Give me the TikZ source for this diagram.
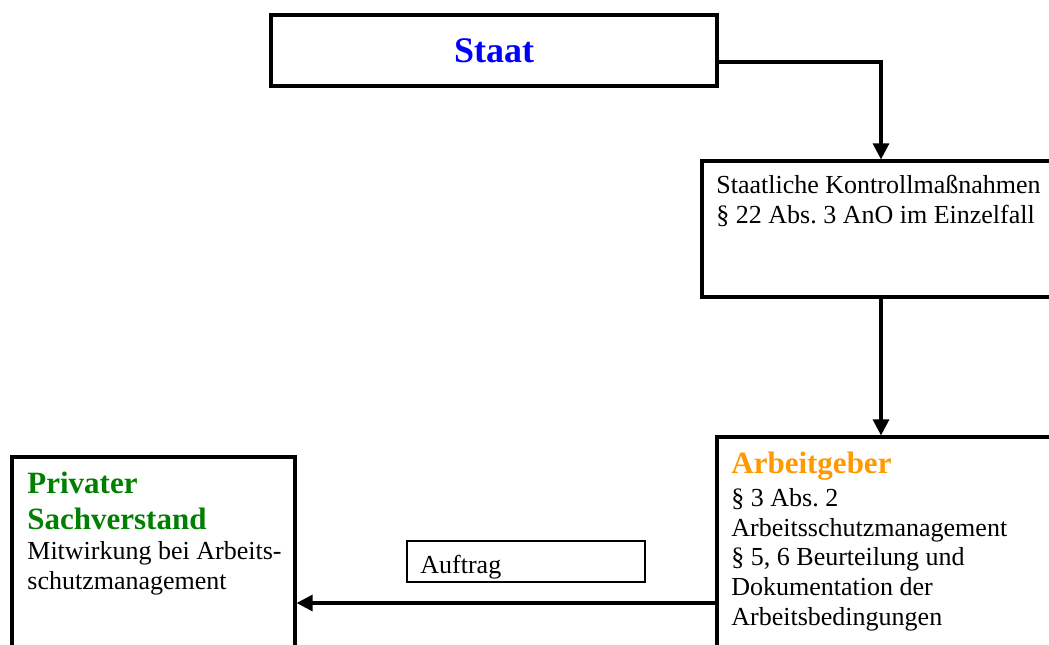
\documentclass[tikz,border=0pt]{standalone}
\usepackage{fontspec}
\setmainfont{Liberation Serif}
\usetikzlibrary{arrows.meta}
\definecolor{staatblue}{RGB}{0,0,255}
\definecolor{geberorange}{RGB}{255,153,0}
\definecolor{privatgreen}{RGB}{0,128,0}
\frenchspacing

\begin{document}
\begin{tikzpicture}[x=0.5pt, y=-0.5pt,
        box/.style={draw, line width=1.6pt, inner sep=0pt},
        txt/.style={anchor=base west, align=left, inner sep=0pt, font=\fontsize{13}{14.8}\selectfont},
        head/.style={anchor=base west, align=left, inner sep=0pt, font=\fontsize{15.5}{18}\selectfont\bfseries},
        conn/.style={line width=1.6pt, -{Triangle[length=8pt, width=8pt]}}]
    \useasboundingbox (0,0) rectangle (1049,644);
    \clip (0,0) rectangle (1049,644);
    % Staat: box at the top
    \node[box, line width=1.8pt, minimum width=223pt, minimum height=35.5pt] (staat) at (494,50.5) {};
    \node[font=\fontsize{18}{21}\selectfont\bfseries, text=staatblue, inner sep=0pt] (staat text) at (staat.center) {Staat};
    % Staatliche Kontrolle: right, runs off the edge
    % (base of a multi-line node = its last line)
    \node[box, minimum width=179pt, minimum height=68pt] (kontrolle) at (881,229) {};
    \node[txt] (kontrolle text) at (716,223) {Staatliche Kontrollma\ss nahmen\\\S\ 22 Abs. 3 AnO im Einzelfall};
    % Arbeitgeber: bottom right
    \node[box, minimum width=191.5pt, minimum height=131.5pt] (geber) at (908.5,568.5) {};
    \node[head, text=geberorange] (geber head) at (731,473) {Arbeitgeber};
    \node[txt] (geber text) at (731,625) {\S\ 3 Abs. 2\\Arbeitsschutzmanagement\\\S\ 5, 6 Beurteilung und\\Dokumentation der\\Arbeitsbedingungen};
    % Privater Sachverstand: bottom left
    \node[box, minimum width=141.5pt, minimum height=146pt] (privat) at (153.5,603) {};
    \node[head, text=privatgreen] (privat head) at (27,529) {Privater\\Sachverstand};
    \node[txt] (privat text) at (27,589) {Mitwirkung bei Arbeits-\\schutzmanagement};
    % Auftrag label on the lower connector
    \node[box, line width=1.1pt, minimum width=119pt, minimum height=20.5pt] (auftrag) at (526,561.5) {};
    \node[txt] (auftrag text) at (420,573) {Auftrag};
    % connectors
    \draw[conn] ([yshift=-5.75pt]staat.east) -| (kontrolle.north);
    \draw[conn] (kontrolle.south) -- (kontrolle.south |- geber.north);
    \draw[conn] (geber.west |- privat.east) -- (privat.east);
\end{tikzpicture}
\end{document}
